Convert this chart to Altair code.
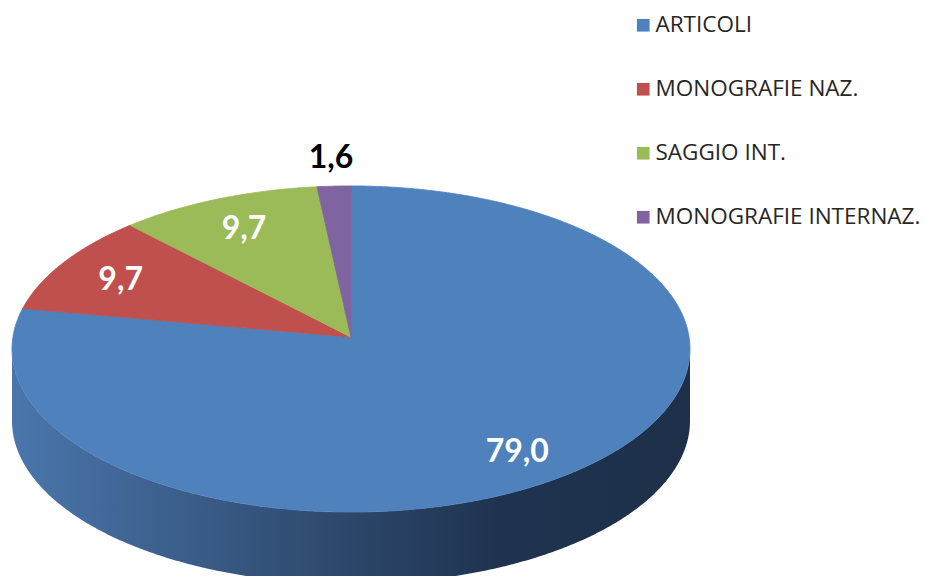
import numpy as np
import pandas as pd
import altair as alt

# ---- data ----
categories = ["ARTICOLI", "MONOGRAFIE NAZ.", "SAGGIO INT.", "MONOGRAFIE INTERNAZ."]
values = [79.0, 9.7, 9.7, 1.6]
value_labels = ["79,0", "9,7", "9,7", "1,6"]
colors = ["#4F81BD", "#C0504D", "#9BBB59", "#8064A2"]

# ---- 3D-pie styling (view geometry, not data) ----
TILT = 0.481      # vertical squash of the top face
DEPTH = 0.212     # thickness of the side wall
APEX_UP = 0.035   # perspective: the slice apex sits a little above the ellipse centre
START = 90.0      # first slice starts at 12 o'clock, going clockwise
LABEL_IN = 0.80
LABEL_OUT = 1.17

total = float(sum(values))
cum = np.concatenate([[0.0], np.cumsum(values)])
a_start = START - 360.0 * cum[:-1] / total
a_end = START - 360.0 * cum[1:] / total

# top-face polygons
face_rows = []
for i, cat in enumerate(categories):
    n = max(3, int(abs(a_start[i] - a_end[i]) * 2) + 1)
    angs = np.linspace(a_start[i], a_end[i], n)
    apex = (0.0, APEX_UP)
    pts = [apex] + [(np.cos(np.radians(a)), TILT * np.sin(np.radians(a))) for a in angs] + [apex]
    for k, (x, y) in enumerate(pts):
        face_rows.append({"category": cat, "idx": k, "x": x, "y": y})
faces = pd.DataFrame(face_rows)

# side wall (front half of the rim, angles between -180 and 0)
wall_rows = []
for i, cat in enumerate(categories):
    hi, lo = a_start[i], a_end[i]
    for shift in (0.0, -360.0):
        w_lo, w_hi = max(lo, -180.0 + shift), min(hi, 0.0 + shift)
        if w_hi - w_lo <= 0:
            continue
        n = max(3, int((w_hi - w_lo) * 2) + 1)
        angs = np.linspace(w_lo, w_hi, n)
        top = [(np.cos(np.radians(a)), TILT * np.sin(np.radians(a))) for a in angs]
        bot = [(x, y - DEPTH) for (x, y) in top[::-1]]
        for k, (x, y) in enumerate(top + bot):
            wall_rows.append({"category": cat + str(shift), "idx": k, "x": x, "y": y})
walls = pd.DataFrame(wall_rows)

# labels
lab_rows = []
for i, cat in enumerate(categories):
    mid = np.radians((a_start[i] + a_end[i]) / 2)
    share = values[i] / total
    f = LABEL_IN if share >= 0.05 else LABEL_OUT
    lab_rows.append({
        "category": cat,
        "text": value_labels[i],
        "x": f * np.cos(mid),
        "y": f * TILT * np.sin(mid),
        "fill": "#FFFFFF" if share >= 0.05 else "#000000",
    })
labs = pd.DataFrame(lab_rows)

xscale = alt.Scale(domain=[-1.0118, 1.7021], nice=False, zero=False)
yscale = alt.Scale(domain=[-0.6696, 1.0059], nice=False, zero=False)
X = alt.X("x:Q", scale=xscale, axis=None)
Y = alt.Y("y:Q", scale=yscale, axis=None)

grad = alt.Gradient(
    gradient="linear",
    stops=[
        alt.GradientStop(color="#4A76AC", offset=0),
        alt.GradientStop(color="#2F4B70", offset=0.45),
        alt.GradientStop(color="#1F3350", offset=0.72),
        alt.GradientStop(color="#1E3049", offset=1),
    ],
    x1=0, x2=1, y1=0, y2=0,
)

wall = alt.Chart(walls).mark_line(filled=True, fill=grad, strokeWidth=0).encode(
    x=X, y=Y, detail="category:N", order=alt.Order("idx:Q")
)

faces_chart = alt.Chart(faces).mark_line(filled=True, strokeWidth=0.8).encode(
    x=X, y=Y,
    order=alt.Order("idx:Q"),
    color=alt.Color(
        "category:N",
        scale=alt.Scale(domain=categories, range=colors),
        sort=categories,
        legend=alt.Legend(
            title=None,
            orient="none",
            legendX=624,
            legendY=6,
            symbolType="square",
            symbolSize=160,
            symbolStrokeWidth=0,
            labelFont="Open Sans",
            labelFontSize=22.5,
            labelColor="#262626",
            labelOffset=1,
            rowPadding=41,
            padding=0,
            labelLimit=400,
        ),
    ),
    stroke=alt.Stroke("category:N", scale=alt.Scale(domain=categories, range=colors), legend=None),
)

text = alt.Chart(labs).mark_text(
    font="Lato", fontWeight="bold", fontSize=32, align="center", baseline="middle"
).encode(
    x=X, y=Y, text="text:N", fill=alt.Fill("fill:N", scale=None)
)

chart = alt.layer(wall, faces_chart, text).properties(
    width=920, height=568, autosize=alt.AutoSizeParams(type="none"), padding=0
).configure_view(stroke=None)

chart.save("out.html", embed_options={"renderer": "svg", "actions": False})
